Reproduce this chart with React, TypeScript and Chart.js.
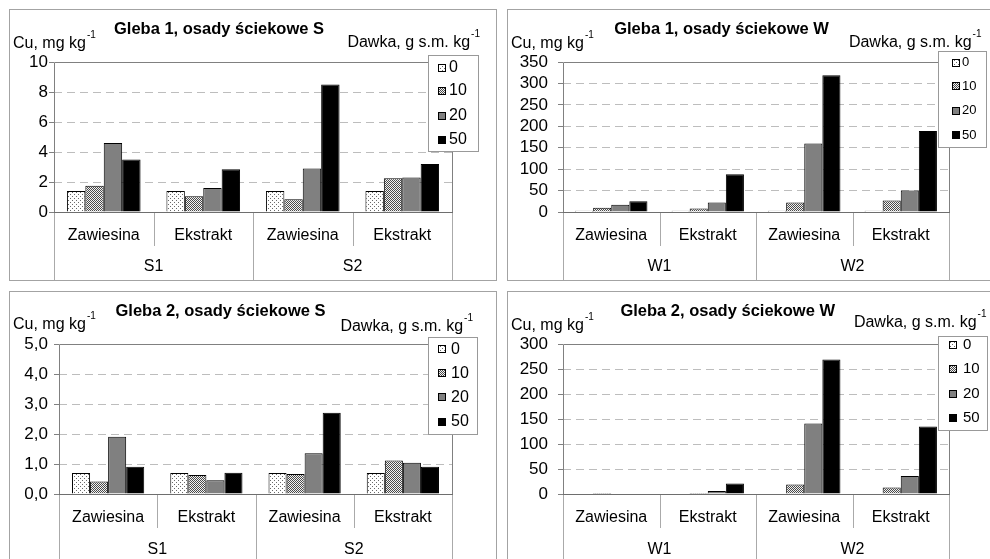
import React, { useEffect, useRef } from "react";
import { Chart, registerables } from "chart.js";

Chart.register(...registerables);

const FONT = "'Liberation Sans', Arial, Helvetica, sans-serif";

// ---------------- data ----------------
const categories = ["Zawiesina", "Ekstrakt", "Zawiesina", "Ekstrakt"];
const groupsS = ["S1", "S2"];
const groupsW = ["W1", "W2"];
const doseLabels = ["0", "10", "20", "50"];

// Gleba 1, osady ściekowe S
const g1S_d0 = [1.4, 1.4, 1.4, 1.4];
const g1S_d10 = [1.75, 1.05, 0.85, 2.25];
const g1S_d20 = [4.6, 1.6, 2.9, 2.3];
const g1S_d50 = [3.5, 2.85, 8.5, 3.2];

// Gleba 1, osady ściekowe W
const g1W_d0 = [3, 3, 3, 3];
const g1W_d10 = [10, 8, 22, 27];
const g1W_d20 = [17, 22, 160, 50];
const g1W_d50 = [25, 88, 319, 189];

// Gleba 2, osady ściekowe S
const g2S_d0 = [0.7, 0.7, 0.7, 0.7];
const g2S_d10 = [0.42, 0.63, 0.67, 1.12];
const g2S_d20 = [1.91, 0.46, 1.36, 1.04];
const g2S_d50 = [0.91, 0.71, 2.71, 0.91];

// Gleba 2, osady ściekowe W
const g2W_d0 = [0, 0, 0, 0];
const g2W_d10 = [2, 2, 19, 13];
const g2W_d20 = [0, 6, 141, 36];
const g2W_d50 = [0, 21, 269, 135];

// y tick values
const yTicksS1 = [0, 2, 4, 6, 8, 10];
const yTicksW1 = [0, 50, 100, 150, 200, 250, 300, 350];
const yTicksS2 = [0, 1, 2, 3, 4, 5];
const yTicksW2 = [0, 50, 100, 150, 200, 250, 300];

// ---------------- layout ----------------
type LegendCfg = { x: number; y: number; w: number; h: number; rows: number[]; swX: number; sw: number; textX: number; font: number };
type PanelCfg = {
  left: number; top: number; w: number; h: number;
  title: string; titleX: number; titleY: number;
  cuX: number; cuY: number; dawkaR: number; dawkaY: number;
  plotLeft: number; plotRight: number;
  yTicks: number[]; yPad: number; comma: boolean;
  catPct: number;
  series: number[][];
  groups: string[];
  groupY: number;
  shortSep: number;
  legend: LegendCfg;
};

const panels: PanelCfg[] = [
  {
    left: 9, top: 9, w: 488, h: 272,
    title: "Gleba 1, osady ściekowe S", titleX: 209, titleY: 24,
    cuX: 3, cuY: 37.5, dawkaR: 470, dawkaY: 36.5,
    plotLeft: 44, plotRight: 442,
    yTicks: yTicksS1, yPad: 1, comma: false,
    catPct: 0.74,
    series: [g1S_d0, g1S_d10, g1S_d20, g1S_d50],
    groups: groupsS, groupY: 256.5, shortSep: 34,
    legend: { x: 418, y: 45, w: 51, h: 97, rows: [57.5, 81, 105.5, 129.5], swX: 428, sw: 8, textX: 439, font: 16 },
  },
  {
    left: 507, top: 9, w: 490, h: 272,
    title: "Gleba 1, osady ściekowe W", titleX: 213.5, titleY: 24.3,
    cuX: 3, cuY: 37.5, dawkaR: 473.5, dawkaY: 36.5,
    plotLeft: 55, plotRight: 441,
    yTicks: yTicksW1, yPad: 10, comma: false,
    catPct: 0.75,
    series: [g1W_d0, g1W_d10, g1W_d20, g1W_d50],
    groups: groupsW, groupY: 256.5, shortSep: 34,
    legend: { x: 430, y: 41, w: 49, h: 97, rows: [52.7, 76, 100.7, 125], swX: 444, sw: 8, textX: 454, font: 13 },
  },
  {
    left: 9, top: 291, w: 488, h: 280,
    title: "Gleba 2, osady ściekowe S", titleX: 210.5, titleY: 23.7,
    cuX: 3, cuY: 37.3, dawkaR: 463, dawkaY: 38.5,
    plotLeft: 49, plotRight: 442,
    yTicks: yTicksS2, yPad: 6, comma: true,
    catPct: 0.735,
    series: [g2S_d0, g2S_d10, g2S_d20, g2S_d50],
    groups: groupsS, groupY: 257.3, shortSep: 34,
    legend: { x: 418, y: 45, w: 50, h: 98, rows: [57.3, 81.3, 105.3, 129.7], swX: 428, sw: 8, textX: 441, font: 16 },
  },
  {
    left: 507, top: 291, w: 490, h: 280,
    title: "Gleba 2, osady ściekowe W", titleX: 219.7, titleY: 24,
    cuX: 3, cuY: 38, dawkaR: 478.5, dawkaY: 35,
    plotLeft: 55, plotRight: 441,
    yTicks: yTicksW2, yPad: 10, comma: false,
    catPct: 0.75,
    series: [g2W_d0, g2W_d10, g2W_d20, g2W_d50],
    groups: groupsW, groupY: 257.3, shortSep: 34,
    legend: { x: 430, y: 44, w: 50, h: 95, rows: [53, 77.3, 102, 125.7], swX: 441, sw: 8, textX: 455, font: 15 },
  },
];

const PLOT_TOP = 52;
const PLOT_BOTTOM = 202;

// ---------------- patterns ----------------
function makePatterns(ctx: CanvasRenderingContext2D): (CanvasPattern | string)[] {
  const mk = (size: number, draw: (c: CanvasRenderingContext2D) => void) => {
    const cv = document.createElement("canvas");
    cv.width = size;
    cv.height = size;
    const c = cv.getContext("2d")!;
    draw(c);
    return ctx.createPattern(cv, "repeat") || "#ddd";
  };
  const dots = mk(4, (c) => {
    c.fillStyle = "#fff";
    c.fillRect(0, 0, 4, 4);
    c.fillStyle = "#6a6a6a";
    c.fillRect(0, 0, 1, 1);
    c.fillRect(2, 2, 1, 1);
  });
  const checker = mk(2, (c) => {
    c.fillStyle = "#f2f2f2";
    c.fillRect(0, 0, 2, 2);
    c.fillStyle = "#4a4a4a";
    c.fillRect(0, 0, 1, 1);
    c.fillRect(1, 1, 1, 1);
  });
  return [dots, checker, "#808080", "#000000"];
}

function drawSup(ctx: CanvasRenderingContext2D, main: string, sup: string, x: number, y: number, align: "left" | "right") {
  ctx.font = `16px ${FONT}`;
  const mw = ctx.measureText(main).width;
  ctx.font = `10px ${FONT}`;
  const sw = ctx.measureText(sup).width;
  const x0 = align === "left" ? x : x - mw - sw - 1;
  ctx.textAlign = "left";
  ctx.textBaseline = "alphabetic";
  ctx.fillStyle = "#000";
  ctx.font = `16px ${FONT}`;
  ctx.fillText(main, x0, y);
  ctx.font = `10px ${FONT}`;
  ctx.fillText(sup, x0 + mw + 1, y - 10);
}

const decorPlugin = {
  id: "decor",
  afterDraw(chart: any, _args: any, opts: any) {
    const p: PanelCfg = opts.panel;
    if (!p) return;
    const { ctx, chartArea: ca } = chart;
    const xs = chart.scales.x;
    ctx.save();
    // plot frame
    ctx.lineWidth = 1;
    ctx.strokeStyle = "#808080";
    ctx.beginPath();
    ctx.moveTo(ca.left + 0.5, ca.bottom + 0.5);
    ctx.lineTo(ca.left + 0.5, ca.top + 0.5);
    ctx.lineTo(ca.right + 0.5, ca.top + 0.5);
    ctx.lineTo(ca.right + 0.5, ca.bottom + 0.5);
    ctx.stroke();
    // category axis line
    ctx.strokeStyle = "#6e6e6e";
    ctx.beginPath();
    ctx.moveTo(ca.left, ca.bottom + 0.5);
    ctx.lineTo(ca.right + 1, ca.bottom + 0.5);
    ctx.stroke();
    // category separators
    ctx.strokeStyle = "#aaaaaa";
    const n = chart.data.labels.length;
    for (let i = 0; i <= n; i++) {
      const x = Math.round(xs.getPixelForValue(i - 0.5)) + 0.5;
      const long = i % 2 === 0;
      ctx.beginPath();
      ctx.moveTo(x, ca.bottom + 1);
      ctx.lineTo(x, long ? chart.height : ca.bottom + p.shortSep);
      ctx.stroke();
    }
    // group labels
    ctx.fillStyle = "#000";
    ctx.font = `16px ${FONT}`;
    ctx.textAlign = "center";
    ctx.textBaseline = "middle";
    p.groups.forEach((g, k) => {
      ctx.fillText(g, xs.getPixelForValue(2 * k + 0.5), p.groupY);
    });
    // title
    ctx.font = `bold 16.5px ${FONT}`;
    ctx.textAlign = "center";
    ctx.textBaseline = "alphabetic";
    ctx.fillText(p.title, p.titleX, p.titleY);
    // unit labels
    drawSup(ctx, "Cu, mg kg", "-1", p.cuX, p.cuY, "left");
    drawSup(ctx, "Dawka, g s.m. kg", "-1", p.dawkaR, p.dawkaY, "right");
    // legend
    const L = p.legend;
    ctx.fillStyle = "#fff";
    ctx.fillRect(L.x, L.y, L.w, L.h);
    ctx.strokeStyle = "#999999";
    ctx.strokeRect(L.x + 0.5, L.y + 0.5, L.w - 1, L.h - 1);
    chart.data.datasets.forEach((ds: any, i: number) => {
      const cy = L.rows[i];
      const sy = Math.round(cy - L.sw / 2);
      ctx.fillStyle = ds.backgroundColor;
      ctx.fillRect(L.swX, sy, L.sw, L.sw);
      ctx.strokeStyle = "#000";
      ctx.strokeRect(L.swX + 0.5, sy + 0.5, L.sw - 1, L.sw - 1);
      ctx.fillStyle = "#000";
      ctx.font = `${L.font}px ${FONT}`;
      ctx.textAlign = "left";
      ctx.textBaseline = "middle";
      ctx.fillText(ds.label, L.textX, cy);
    });
    ctx.restore();
  },
};

function Panel({ p }: { p: PanelCfg }) {
  const ref = useRef<HTMLCanvasElement | null>(null);
  const cw = p.w - 2;
  const ch = p.h - 2;
  useEffect(() => {
    const canvas = ref.current;
    if (!canvas) return;
    const ctx = canvas.getContext("2d")!;
    const fills = makePatterns(ctx);
    const yMax = p.yTicks[p.yTicks.length - 1];
    const chart = new Chart(ctx, {
      type: "bar",
      data: {
        labels: categories,
        datasets: doseLabels.map((d, i) => ({
          label: d,
          data: p.series[i],
          backgroundColor: fills[i] as any,
          borderColor: "#000",
          borderWidth: 1,
          barPercentage: 1,
          categoryPercentage: p.catPct,
        })),
      },
      options: {
        responsive: false,
        maintainAspectRatio: false,
        animation: false,
        devicePixelRatio: 1,
        layout: { padding: { left: 0, top: PLOT_TOP, right: cw - p.plotRight, bottom: 0 } },
        plugins: {
          legend: { display: false },
          title: { display: false },
          tooltip: { enabled: false },
          decor: { panel: p },
        } as any,
        scales: {
          x: {
            type: "category",
            offset: true,
            grid: { display: false, drawTicks: false },
            border: { display: false },
            ticks: {
              color: "#000",
              font: { family: FONT, size: 16 },
              padding: 14,
              maxRotation: 0,
              autoSkip: false,
            },
            afterFit: (s: any) => {
              s.height = ch - PLOT_BOTTOM;
            },
          },
          y: {
            min: 0,
            max: yMax,
            afterBuildTicks: (s: any) => {
              s.ticks = p.yTicks.map((v) => ({ value: v }));
            },
            ticks: {
              color: "#000",
              font: { family: FONT, size: 17 },
              padding: p.yPad,
              autoSkip: false,
              callback: (v: any) => (p.comma ? Number(v).toFixed(1).replace(".", ",") : String(v)),
            },
            grid: {
              color: (c: any) =>
                c.tick && c.tick.value > 0 && c.tick.value < yMax ? "#bdbdbd" : "rgba(0,0,0,0)",
              drawTicks: true,
              tickLength: 5,
              tickColor: "#808080",
              tickWidth: 1,
              tickBorderDash: [],
            },
            border: { display: false, dash: [8, 5] },
            afterFit: (s: any) => {
              s.width = p.plotLeft;
            },
          },
        },
      },
      plugins: [decorPlugin],
    } as any);
    return () => chart.destroy();
  }, [p]);
  return (
    <div
      style={{
        position: "absolute",
        left: p.left,
        top: p.top,
        width: p.w,
        height: p.h,
        boxSizing: "border-box",
        border: "1px solid #a3a3a3",
        background: "#fff",
        overflow: "hidden",
      }}
    >
      <canvas
        ref={ref}
        width={cw}
        height={ch}
        style={{ position: "absolute", left: 0, top: 0, width: cw, height: ch }}
      />
    </div>
  );
}

export default function App() {
  return (
    <div
      style={{
        position: "fixed",
        left: 0,
        top: 0,
        width: 990,
        height: 559,
        overflow: "hidden",
        background: "#fff",
      }}
    >
      {panels.map((p, i) => (
        <Panel key={i} p={p} />
      ))}
    </div>
  );
}
